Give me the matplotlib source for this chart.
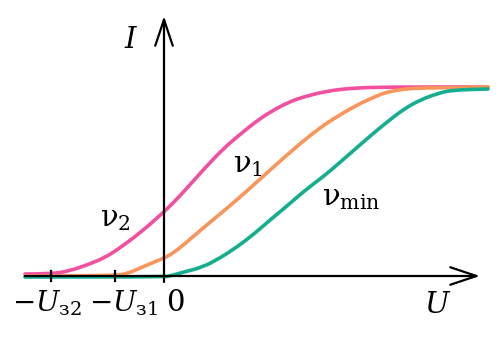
import numpy as np
import matplotlib.pyplot as plt
from matplotlib.path import Path
from matplotlib.patches import PathPatch

plt.rcParams['font.family'] = ['DejaVu Serif']
plt.rcParams['mathtext.fontset'] = 'dejavuserif'

# curves (U, I in arbitrary units)
u_nu2 = [-139, -113, -95, -77, -60, -47, -24, 0, 16, 39, 60, 73, 90, 106, 125, 139, 163, 189, 223, 324]
i_nu2 = [2, 2, 5, 11, 18, 26, 43, 64, 80, 106, 128, 139, 153, 164, 174, 179, 185, 188, 189, 189]

u_nu1 = [-139, -49, -35, -24, 0, 6, 16, 39, 73, 106, 139, 156, 166, 189, 210, 223, 240, 256, 324]
i_nu1 = [0, 0, 3, 8, 18, 21, 28, 48, 76, 106, 135, 148, 155, 169, 179, 184, 187, 188, 189]

u_min = [-139, 0, 6, 20, 39, 56, 73, 90, 106, 123, 139, 156, 166, 189, 205, 223, 240, 256, 275, 289, 324]
i_min = [-1, -1, 0, 4, 9, 18, 29, 42, 56, 70, 84, 97, 105, 125, 139, 154, 167, 176, 183, 186, 187]

stop_voltages = [-113, -49]
stop_labels = [r'$-U_{\mathrm{з2}}$', r'$-U_{\mathrm{з1}}$']


def smooth_curve(ax, xs, ys, color):
    # quadratic b-spline through the read points (points used as controls)
    pts = np.column_stack([xs, ys]).astype(float)
    verts = [pts[0]]
    codes = [Path.MOVETO]
    for k in range(1, len(pts) - 1):
        verts += [pts[k], (pts[k] + pts[k + 1]) / 2]
        codes += [Path.CURVE3, Path.CURVE3]
    verts.append(pts[-1])
    codes.append(Path.LINETO)
    ax.add_patch(PathPatch(Path(verts, codes), fill=False, edgecolor=color,
                           lw=2.6, capstyle='round', joinstyle='round'))


fig = plt.figure(figsize=(5, 3.38), dpi=100)
ax = fig.add_axes([0, 0, 1, 1])
ax.set_xlim(-164, 336)
ax.set_ylim(-62, 276)
ax.axis('off')

# axes with open arrow heads
arr = dict(arrowstyle='->, head_length=1.35, head_width=0.45', lw=1.6, color='black',
           mutation_scale=14, shrinkA=0, shrinkB=0)
ax.annotate('', xy=(316, 0), xytext=(-139, 0), arrowprops=arr)
ax.annotate('', xy=(0, 260), xytext=(0, -6), arrowprops=arr)

smooth_curve(ax, u_nu2, i_nu2, '#f0509f')
smooth_curve(ax, u_nu1, i_nu1, '#f9955a')
smooth_curve(ax, u_min, i_min, '#14ae8f')

label_x = [-117, -41]
for u, lx, lab in zip(stop_voltages, label_x, stop_labels):
    ax.plot([u, u], [-5, 5], color='black', lw=1.6)
    ax.text(lx, -13, lab, fontsize=20, ha='center', va='top')
ax.text(11, -13, '0', fontsize=21, ha='center', va='top')

ax.text(-33, 236, '$I$', fontsize=21, ha='center', va='center')
ax.text(274, -29, '$U$', fontsize=21, ha='center', va='center')

ax.text(-64, 50, r'$\mathrm{ν}_2$', fontsize=21, ha='left', va='baseline')
ax.text(69, 104, r'$\mathrm{ν}_1$', fontsize=21, ha='left', va='baseline')
ax.text(158, 71, r'$\mathrm{ν}_{\mathrm{min}}$', fontsize=21, ha='left', va='baseline')

fig.savefig('out.png', dpi=100)
